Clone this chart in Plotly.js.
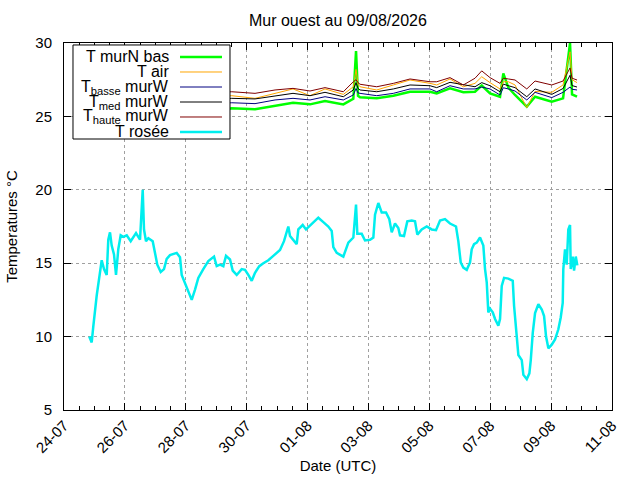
<!DOCTYPE html>
<html>
<head>
<meta charset="utf-8">
<script src="https://cdn.plot.ly/plotly-3.0.1.min.js"></script>
<style>
  html, body { margin: 0; padding: 0; background: #fff; }
  #chart { width: 640px; height: 480px; }
</style>
</head>
<body>
<div id="chart"></div>
<script>
// Point de rosée (T rosée)
const dewTimes = [
  '2026-07-24 19:55', '2026-07-24 21:50', '2026-07-24 23:06', '2026-07-25 00:26', '2026-07-25 01:47',
  '2026-07-25 03:50', '2026-07-25 05:43', '2026-07-25 07:32', '2026-07-25 09:40', '2026-07-25 10:55',
  '2026-07-25 12:16', '2026-07-25 13:36', '2026-07-25 15:25', '2026-07-25 17:00', '2026-07-25 18:48',
  '2026-07-25 20:42', '2026-07-25 22:45', '2026-07-26 01:26', '2026-07-26 04:35', '2026-07-26 08:46',
  '2026-07-26 11:55', '2026-07-26 14:03', '2026-07-26 15:04', '2026-07-26 16:39', '2026-07-26 18:28',
  '2026-07-26 21:56', '2026-07-26 23:45', '2026-07-27 01:33', '2026-07-27 04:14', '2026-07-27 06:50',
  '2026-07-27 08:58', '2026-07-27 11:34', '2026-07-27 16:51', '2026-07-27 19:27', '2026-07-27 20:47',
  '2026-07-27 23:24', '2026-07-28 02:00', '2026-07-28 04:41', '2026-07-28 07:17', '2026-07-28 09:53',
  '2026-07-28 13:49', '2026-07-28 17:46', '2026-07-28 22:16', '2026-07-29 00:23', '2026-07-29 03:00',
  '2026-07-29 05:36', '2026-07-29 07:43', '2026-07-29 10:52', '2026-07-29 13:00', '2026-07-29 16:09',
  '2026-07-29 20:06', '2026-07-29 22:42', '2026-07-30 01:18', '2026-07-30 03:59', '2026-07-30 06:35',
  '2026-07-30 09:58', '2026-07-30 13:07', '2026-07-30 17:04', '2026-07-30 21:00', '2026-07-31 02:17',
  '2026-07-31 05:26', '2026-07-31 08:50', '2026-07-31 10:10', '2026-07-31 12:46', '2026-07-31 15:27',
  '2026-07-31 16:43', '2026-07-31 20:11', '2026-07-31 22:47', '2026-08-01 02:30', '2026-08-01 08:29',
  '2026-08-01 12:26', '2026-08-01 16:22', '2026-08-01 19:03', '2026-08-01 20:19', '2026-08-01 23:00',
  '2026-08-02 01:36', '2026-08-02 04:12', '2026-08-02 08:09', '2026-08-02 12:05', '2026-08-02 14:13',
  '2026-08-02 15:14', '2026-08-02 18:42', '2026-08-02 21:18', '2026-08-03 01:15', '2026-08-03 03:51',
  '2026-08-03 05:11', '2026-08-03 07:47', '2026-08-03 10:28', '2026-08-03 13:51', '2026-08-03 16:27',
  '2026-08-03 18:21', '2026-08-03 20:57', '2026-08-03 23:33', '2026-08-04 00:53', '2026-08-04 04:02',
  '2026-08-04 06:38', '2026-08-04 10:07', '2026-08-04 12:43', '2026-08-04 14:32', '2026-08-04 18:00',
  '2026-08-04 21:56', '2026-08-05 01:53', '2026-08-05 05:16', '2026-08-05 08:25', '2026-08-05 12:21',
  '2026-08-05 16:18', '2026-08-05 21:02', '2026-08-05 22:51', '2026-08-06 00:45', '2026-08-06 02:48',
  '2026-08-06 05:29', '2026-08-06 08:05', '2026-08-06 09:25', '2026-08-06 11:14', '2026-08-06 13:22',
  '2026-08-06 15:58', '2026-08-06 18:34', '2026-08-06 19:55', '2026-08-06 21:15', '2026-08-06 22:30',
  '2026-08-06 23:51', '2026-08-07 01:59', '2026-08-07 03:48', '2026-08-07 06:24', '2026-08-07 07:44',
  '2026-08-07 09:05', '2026-08-07 10:54', '2026-08-07 14:18', '2026-08-07 17:46', '2026-08-07 18:48',
  '2026-08-07 20:23', '2026-08-07 22:11', '2026-08-08 00:52', '2026-08-08 02:08', '2026-08-08 04:49',
  '2026-08-08 06:52', '2026-08-08 07:58', '2026-08-08 09:32', '2026-08-08 11:21', '2026-08-08 13:57',
  '2026-08-08 16:38', '2026-08-08 18:27', '2026-08-08 20:01', '2026-08-08 21:50', '2026-08-09 00:30',
  '2026-08-09 03:06', '2026-08-09 05:42', '2026-08-09 07:35', '2026-08-09 09:09', '2026-08-09 09:37',
  '2026-08-09 10:58', '2026-08-09 12:18', '2026-08-09 13:34', '2026-08-09 14:55', '2026-08-09 15:28',
  '2026-08-09 17:02', '2026-08-09 18:06', '2026-08-09 19:26', '2026-08-09 20:41'
];
const dewValues = [
  10.0, 9.6, 10.7, 12.0, 12.8, 14.05, 15.2, 14.6, 14.2, 16.6,
  17.1, 16.2, 15.6, 14.2, 15.95, 16.9, 16.8, 16.9, 16.5, 17.05,
  16.6, 20.0, 17.3, 16.5, 16.7, 16.5, 15.7, 14.9, 14.4, 14.6,
  15.3, 15.55, 15.7, 15.4, 14.2, 13.65, 13.05, 12.5, 13.2, 14.0,
  14.6, 15.15, 15.45, 14.8, 14.9, 14.8, 15.5, 15.25, 14.5, 14.2,
  14.6, 14.55, 14.2, 13.8, 14.35, 14.8, 15.0, 15.2, 15.5, 15.9,
  16.5, 17.5, 16.85, 16.6, 16.3, 17.3, 17.6, 17.3, 17.6, 18.1,
  17.8, 17.5, 17.2, 16.1, 15.7, 15.55, 15.45, 16.4, 16.75, 19.0,
  17.0, 17.0, 16.55, 16.6, 16.75, 18.3, 19.1, 18.45, 18.45, 18.0,
  17.1, 17.7, 17.4, 16.9, 16.85, 17.85, 17.9, 17.85, 16.95, 17.3,
  17.5, 17.3, 17.25, 17.9, 18.0, 17.7, 17.5, 16.5, 15.05, 14.7,
  14.55, 15.05, 15.95, 16.3, 16.4, 16.75, 16.2, 14.6, 13.7, 11.65,
  11.9, 11.65, 11.2, 10.75, 11.2, 13.45, 14.0, 13.95, 13.8, 12.1,
  10.25, 8.75, 8.4, 7.4, 7.1, 7.5, 8.4, 10.25, 11.6, 12.2,
  11.85, 11.4, 10.0, 9.2, 9.45, 9.8, 10.5, 11.3, 12.3, 14.6,
  15.95, 14.9, 17.3, 17.6, 14.6, 15.45, 14.5, 15.45, 14.85
];

// Températures du mur et de l'air
const wallTimes = [
  '2026-07-29 06:00', '2026-07-29 12:13', '2026-07-30 06:35', '2026-07-30 22:22', '2026-07-31 12:32',
  '2026-08-01 01:56', '2026-08-01 13:46', '2026-08-02 04:12', '2026-08-02 12:05', '2026-08-02 14:13',
  '2026-08-02 15:47', '2026-08-02 17:22', '2026-08-03 06:32', '2026-08-03 19:38', '2026-08-04 08:47',
  '2026-08-05 00:33', '2026-08-05 05:49', '2026-08-05 16:18', '2026-08-06 02:48', '2026-08-06 12:00',
  '2026-08-06 17:18', '2026-08-06 23:51', '2026-08-07 07:44', '2026-08-07 10:20', '2026-08-07 14:18',
  '2026-08-07 19:34', '2026-08-08 04:49', '2026-08-08 11:21', '2026-08-09 00:30', '2026-08-09 09:25',
  '2026-08-09 14:55', '2026-08-09 16:30', '2026-08-09 20:26'
];
const murNBas = [
  25.45, 25.55, 25.48, 25.73, 25.93, 25.82, 26.05, 25.82, 26.2, 29.45,
  26.4, 26.3, 26.23, 26.41, 26.68, 26.68, 26.57, 26.91, 26.64, 26.68,
  27.1, 26.57, 26.34, 27.93, 26.96, 26.46, 25.66, 26.34, 26.0, 26.23,
  30.0, 26.5, 26.34
];
const tAir = [
  26.4, 26.41, 26.23, 26.57, 26.87, 26.41, 26.87, 26.5, 27.02, 28.2,
  27.2, 27.02, 26.8, 27.14, 27.48, 27.25, 27.14, 27.55, 27.02, 27.25,
  27.7, 27.3, 26.87, 27.36, 27.36, 27.14, 25.6, 26.7, 26.64, 27.14,
  29.4, 27.5, 27.3
];
const tBasse = [
  25.9, 25.93, 25.87, 26.12, 26.23, 26.12, 26.34, 26.12, 26.46, 26.9,
  26.6, 26.57, 26.41, 26.57, 26.87, 26.87, 26.68, 27.09, 26.87, 26.87,
  27.0, 26.87, 26.46, 26.95, 26.87, 26.73, 26.12, 26.64, 26.28, 26.64,
  27.0, 26.85, 26.8
];
const tMed = [
  26.2, 26.23, 26.19, 26.41, 26.57, 26.41, 26.64, 26.34, 26.8, 27.3,
  26.9, 26.8, 26.68, 26.87, 27.14, 27.09, 26.96, 27.32, 27.14, 27.02,
  27.3, 27.09, 26.68, 27.2, 27.09, 26.96, 26.34, 26.87, 26.5, 26.9,
  27.8, 27.1, 27.0
];
const tHaute = [
  26.65, 26.68, 26.57, 26.8, 26.91, 26.73, 26.96, 26.68, 27.36, 27.5,
  27.3, 27.19, 27.02, 27.25, 27.55, 27.36, 27.36, 27.64, 27.14, 27.6,
  28.1, 27.64, 27.25, 27.6, 27.55, 27.48, 26.87, 27.41, 27.14, 27.41,
  28.3, 27.6, 27.48
];

const seriesNames  = ['T murN bas', 'T air', 'T<sub>basse</sub> murW', 'T<sub>med</sub> murW', 'T<sub>haute</sub> murW', 'T rosée'];
const seriesColors = ['#00ff00', '#ffa500', '#000080', '#000000', '#800000', '#00eeee'];
const seriesWidths = [2.5, 1, 1, 1, 1, 2.5];

const FONT = 'Liberation Sans, Arial, Helvetica, sans-serif';

const seriesX = [wallTimes, wallTimes, wallTimes, wallTimes, wallTimes, dewTimes];
const seriesY = [murNBas, tAir, tBasse, tMed, tHaute, dewValues];

const traces = seriesNames.map((name, i) => ({
  type: 'scatter',
  mode: 'lines',
  name,
  x: seriesX[i],
  y: seriesY[i],
  line: { color: seriesColors[i], width: seriesWidths[i] },
  showlegend: false
}));

// gnuplot-style key: text right-aligned, sample line on the right
const keyX0 = 0.0164, keyX1 = 0.3029, keyY0 = 0.7384, keyY1 = 0.9946;
const keyRowY = [0.9619, 0.9210, 0.8801, 0.8392, 0.7984, 0.7575];
const shapes = [{
  type: 'rect', xref: 'paper', yref: 'paper', layer: 'above',
  x0: keyX0, x1: keyX1, y0: keyY0, y1: keyY1,
  fillcolor: '#ffffff', line: { color: '#000', width: 1 }
}];
const annotations = [];
seriesNames.forEach((name, i) => {
  shapes.push({
    type: 'line', xref: 'paper', yref: 'paper', layer: 'above',
    x0: 0.2117, x1: 0.2883, y0: keyRowY[i], y1: keyRowY[i],
    line: { color: seriesColors[i], width: seriesWidths[i] }
  });
  annotations.push({
    xref: 'paper', yref: 'paper', x: 0.1953, y: keyRowY[i],
    xanchor: 'right', yanchor: 'middle', showarrow: false,
    text: name, font: { family: FONT, size: 16, color: '#000' }
  });
});

const axisCommon = {
  showline: true, linecolor: '#000', linewidth: 1, mirror: 'ticks',
  ticks: 'inside', ticklen: 7, tickcolor: '#000', tickwidth: 1,
  showgrid: true, gridcolor: '#a0a0a0', griddash: 'dot', gridwidth: 1,
  zeroline: false,
  tickfont: { family: FONT, size: 15, color: '#000' }
};

const layout = {
  width: 640, height: 480,
  paper_bgcolor: '#fff', plot_bgcolor: '#fff',
  margin: { l: 64, r: 28, t: 43, b: 70 },
  font: { family: FONT, color: '#000' },
  title: {
    text: 'Mur ouest au 09/08/2026',
    font: { family: FONT, size: 16, color: '#000' },
    x: 0.528, xanchor: 'center', y: 0.958, yanchor: 'middle'
  },
  xaxis: {
    ...axisCommon,
    type: 'date',
    range: ['2026-07-24', '2026-08-11'],
    tick0: '2026-07-24', dtick: 2 * 86400000,
    tickformat: '%d-%m', tickangle: -45,
    minor: { dtick: 43200000, ticks: 'inside', ticklen: 4, tickcolor: '#000', showgrid: false },
    title: { text: 'Date (UTC)', font: { family: FONT, size: 15, color: '#000' }, standoff: 5 }
  },
  yaxis: {
    ...axisCommon,
    range: [5, 30], dtick: 5,
    ticklabelstandoff: 8,
    title: { text: 'Temperatures °C', font: { family: FONT, size: 15, color: '#000' }, standoff: 14 }
  },
  shapes, annotations,
  showlegend: false
};

Plotly.newPlot('chart', traces, layout, { displayModeBar: false, staticPlot: true });
</script>
</body>
</html>
